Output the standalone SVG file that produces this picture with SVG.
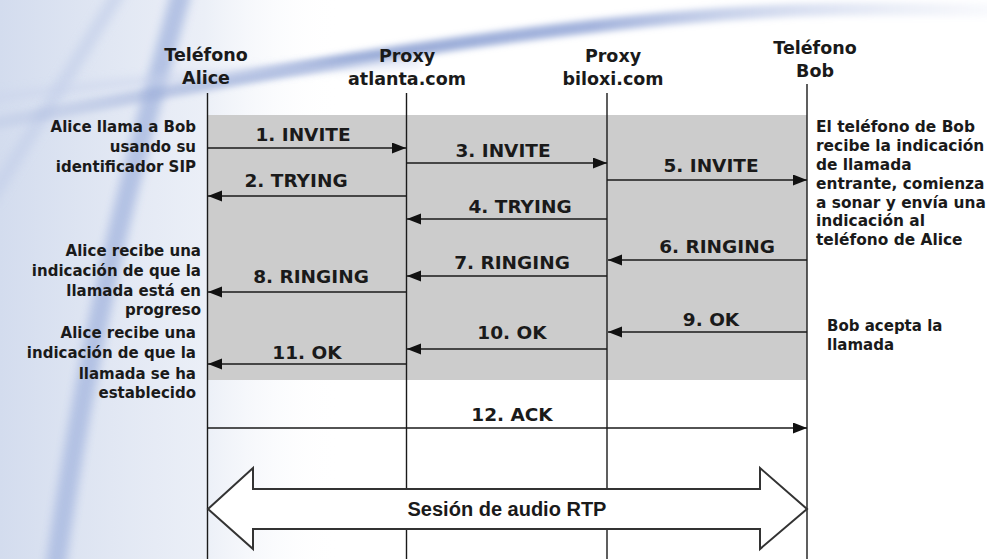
<svg xmlns="http://www.w3.org/2000/svg" width="987" height="559" viewBox="0 0 987 559">
  <defs>
    <style>
      .hdr { font-family: "DejaVu Sans", Verdana, sans-serif; font-weight: bold; font-size: 17.5px; fill: #1a1a1a; text-anchor: middle; }
      .msg { font-family: "DejaVu Sans", Verdana, sans-serif; font-weight: bold; font-size: 18.5px; fill: #1a1a1a; text-anchor: middle; }
      .note { font-family: "DejaVu Sans", Verdana, sans-serif; font-weight: bold; font-size: 15px; fill: #1a1a1a; }
      .noteR { font-family: "DejaVu Sans", Verdana, sans-serif; font-weight: bold; font-size: 15.4px; fill: #1a1a1a; }
      .rtp { font-family: "Liberation Sans", Arial, sans-serif; font-weight: bold; font-size: 20px; fill: #1a1a1a; text-anchor: middle; }
      .life { stroke: #1a1a1a; stroke-width: 1.4; fill: none; }
      .arrow { stroke: #1a1a1a; stroke-width: 1.5; fill: none; marker-end: url(#ah); }
    </style>
    <marker id="ah" markerUnits="userSpaceOnUse" markerWidth="16" markerHeight="13" refX="14" refY="5.5" orient="auto">
      <path d="M0,0 L14,5.5 L0,11 z" fill="#111"/>
    </marker>
    <linearGradient id="leftGrad" x1="0" y1="0" x2="1" y2="0">
      <stop offset="0" stop-color="#d3dcee" stop-opacity="1"/>
      <stop offset="0.6" stop-color="#e6ebf5" stop-opacity="0.8"/>
      <stop offset="1" stop-color="#ffffff" stop-opacity="0"/>
    </linearGradient>
    <linearGradient id="topGrad" x1="0" y1="0" x2="1" y2="0">
      <stop offset="0" stop-color="#a9b8de" stop-opacity="0.2"/>
      <stop offset="0.35" stop-color="#8ea2d3" stop-opacity="0.9"/>
      <stop offset="0.6" stop-color="#93a6d6" stop-opacity="0.85"/>
      <stop offset="1" stop-color="#c8d2ec" stop-opacity="0.1"/>
    </linearGradient>
    <filter id="blur6" x="-20%" y="-50%" width="140%" height="200%">
      <feGaussianBlur stdDeviation="5"/>
    </filter>
    <filter id="blur3" x="-20%" y="-50%" width="140%" height="200%">
      <feGaussianBlur stdDeviation="3"/>
    </filter>
  </defs>

  <!-- background -->
  <g id="background">
    <rect x="0" y="0" width="987" height="559" fill="#ffffff"/>
    <rect x="0" y="0" width="340" height="559" fill="url(#leftGrad)"/>
    <path d="M 182 -10 C 150 110, 100 260, 55 570" stroke="#aebee2" stroke-width="20" fill="none" filter="url(#blur6)" opacity="0.9"/>
    <path d="M 120 -10 C 60 90, 20 150, -10 200" stroke="#c5d0ea" stroke-width="14" fill="none" filter="url(#blur6)" opacity="0.7"/>
    <path d="M -20 126 C 150 95, 330 58, 560 30 S 880 10, 1000 10" stroke="url(#topGrad)" stroke-width="13" fill="none" filter="url(#blur3)"/>
    <path d="M -20 100 C 120 80, 260 70, 420 62" stroke="#c9d3ec" stroke-width="8" fill="none" filter="url(#blur6)" opacity="0.6"/>
  </g>

  <!-- gray band -->
  <rect id="band" x="207" y="115" width="600" height="265" fill="#cccccc"/>

  <!-- participants -->
  <g id="alice">
    <text class="hdr" x="206" y="61">Teléfono</text>
    <text class="hdr" x="206" y="84">Alice</text>
    <line class="life" x1="207.5" y1="93" x2="207.5" y2="559"/>
  </g>
  <g id="atlanta">
    <text class="hdr" x="407" y="62">Proxy</text>
    <text class="hdr" x="407" y="85">atlanta.com</text>
    <line class="life" x1="406.5" y1="93" x2="406.5" y2="559"/>
  </g>
  <g id="biloxi">
    <text class="hdr" x="613" y="62">Proxy</text>
    <text class="hdr" x="613" y="85">biloxi.com</text>
    <line class="life" x1="607" y1="93" x2="607" y2="559"/>
  </g>
  <g id="bob">
    <text class="hdr" x="815" y="54">Teléfono</text>
    <text class="hdr" x="815" y="77">Bob</text>
    <line class="life" x1="807" y1="84" x2="807" y2="559"/>
  </g>

  <!-- notes -->
  <g id="note-alice-1" class="note" text-anchor="end">
    <text x="196" y="132">Alice llama a Bob</text>
    <text x="196" y="152">usando su</text>
    <text x="196" y="171.5">identificador SIP</text>
  </g>
  <g id="note-alice-2" class="note" text-anchor="end">
    <text x="201" y="256">Alice recibe una</text>
    <text x="201" y="275.5">indicación de que la</text>
    <text x="201" y="295.5">llamada está en</text>
    <text x="201" y="315">progreso</text>
  </g>
  <g id="note-alice-3" class="note" text-anchor="end">
    <text x="196" y="338">Alice recibe una</text>
    <text x="196" y="358">indicación de que la</text>
    <text x="196" y="379">llamada se ha</text>
    <text x="196" y="398">establecido</text>
  </g>
  <g id="note-bob-1" class="noteR">
    <text x="816" y="132">El teléfono de Bob</text>
    <text x="816" y="151">recibe la indicación</text>
    <text x="816" y="170">de llamada</text>
    <text x="816" y="189">entrante, comienza</text>
    <text x="816" y="207.5">a sonar y envía una</text>
    <text x="816" y="226">indicación al</text>
    <text x="816" y="245">teléfono de Alice</text>
  </g>
  <g id="note-bob-2" class="note">
    <text x="827" y="331">Bob acepta la</text>
    <text x="827" y="349.5">llamada</text>
  </g>

  <!-- connectors -->
  <g id="connectors">
    <line class="arrow" x1="207" y1="148" x2="406" y2="148"/>
    <line class="arrow" x1="406" y1="163" x2="607" y2="163"/>
    <line class="arrow" x1="607" y1="180" x2="807" y2="180"/>
    <line class="arrow" x1="406" y1="196" x2="208" y2="196"/>
    <line class="arrow" x1="607" y1="219" x2="407" y2="219"/>
    <line class="arrow" x1="807" y1="260" x2="608" y2="260"/>
    <line class="arrow" x1="607" y1="276" x2="407" y2="276"/>
    <line class="arrow" x1="406" y1="292" x2="208" y2="292"/>
    <line class="arrow" x1="807" y1="332" x2="608" y2="332"/>
    <line class="arrow" x1="607" y1="349" x2="407" y2="349"/>
    <line class="arrow" x1="406" y1="364" x2="208" y2="364"/>
    <line class="arrow" x1="207" y1="428" x2="807" y2="428"/>
    <polygon id="rtp-arrow" points="208,509 253,468 253,489 760,489 760,468 807,509 760,549 760,529 253,529 253,549" fill="#ffffff" stroke="#333333" stroke-width="2" stroke-linejoin="miter"/>
  </g>

  <!-- message labels -->
  <g id="labels">
    <text class="msg" x="303" y="141">1. INVITE</text>
    <text class="msg" x="503" y="157">3. INVITE</text>
    <text class="msg" x="711" y="172">5. INVITE</text>
    <text class="msg" x="296" y="187">2. TRYING</text>
    <text class="msg" x="520" y="212.5">4. TRYING</text>
    <text class="msg" x="717" y="252.5">6. RINGING</text>
    <text class="msg" x="512" y="268.5">7. RINGING</text>
    <text class="msg" x="311" y="282.5">8. RINGING</text>
    <text class="msg" x="711" y="326">9. OK</text>
    <text class="msg" x="512" y="339">10. OK</text>
    <text class="msg" x="307" y="359">11. OK</text>
    <text class="msg" x="512" y="421">12. ACK</text>
    <text class="rtp" x="507" y="516">Sesión de audio RTP</text>
  </g>
</svg>
